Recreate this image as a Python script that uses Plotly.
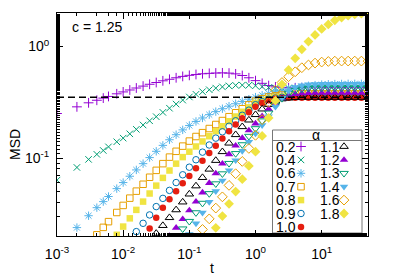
import plotly.graph_objects as go

# ---------------- data ----------------
t = [0.001, 0.002, 0.003, 0.004, 0.005, 0.006, 0.008,
     0.01, 0.0126, 0.0158, 0.02, 0.0251, 0.0316, 0.0398, 0.0501, 0.0631, 0.0794,
     0.1, 0.126, 0.158, 0.2, 0.251, 0.316, 0.398, 0.501, 0.631, 0.794,
     1.0, 1.26, 1.58, 2.0, 2.51, 3.16, 3.98, 5.01, 6.31, 7.94,
     10.0, 12.6, 15.8, 20.0, 25.1, 31.6, 39.8, 50.1]

N = None
msd_a02 = [0.251, 0.288, 0.313, 0.330, 0.345, 0.357, 0.377, 0.392, 0.408, 0.425,
           0.442, 0.459, 0.476, 0.493, 0.509, 0.525, 0.540, 0.552, 0.562, 0.570,
           0.575, 0.579, 0.581, 0.578, 0.569, 0.550, 0.525, 0.495, 0.468, 0.447,
           0.435, 0.429, 0.427, 0.427, 0.427, 0.427, 0.427, 0.427, 0.427, 0.427,
           0.427, 0.427, 0.427, 0.427, 0.427]
msd_a04 = [0.0634, 0.0824, 0.0973, 0.108, 0.117, 0.126, 0.140, 0.151, 0.165, 0.181,
           0.198, 0.216, 0.235, 0.257, 0.280, 0.305, 0.331, 0.353, 0.373, 0.394,
           0.410, 0.424, 0.435, 0.444, 0.449, 0.451, 0.450, 0.445, 0.437, 0.429,
           0.425, 0.424, 0.424, 0.424, 0.424, 0.424, 0.424, 0.424, 0.424, 0.424,
           0.424, 0.424, 0.424, 0.424, 0.424]
msd_a06 = [N, 0.0238, 0.0304, 0.0359, 0.0407, 0.0452, 0.0532, 0.0603, 0.0687, 0.0783,
           0.0891, 0.101, 0.115, 0.130, 0.146, 0.162, 0.179, 0.196, 0.213, 0.229,
           0.245, 0.261, 0.277, 0.292, 0.307, 0.322, 0.337, 0.352, 0.366, 0.380,
           0.394, 0.406, 0.417, 0.427, 0.437, 0.445, 0.451, 0.456, 0.459, 0.461,
           0.462, 0.463, 0.463, 0.463, 0.463]
msd_a07 = [N, N, N, 0.0205, 0.0239, 0.0269, 0.0325, 0.0376, 0.0437, 0.0505,
           0.0582, 0.0673, 0.0776, 0.0891, 0.102, 0.115, 0.128, 0.142, 0.156, 0.169,
           0.184, 0.200, 0.217, 0.235, 0.255, 0.277, 0.300, 0.324, 0.340, 0.353,
           0.361, 0.367, 0.372, 0.374, 0.376, 0.376, 0.376, 0.376, 0.376, 0.376,
           0.376, 0.376, 0.376, 0.376, 0.376]
msd_a08 = [N, N, N, N, N, N, 0.0205, 0.0243, 0.0288, 0.0343,
           0.0407, 0.0481, 0.0566, 0.0664, 0.0773, 0.0891, 0.102, 0.114, 0.127, 0.141,
           0.157, 0.174, 0.193, 0.214, 0.236, 0.260, 0.285, 0.313, 0.331, 0.345,
           0.354, 0.358, 0.361, 0.361, 0.361, 0.361, 0.361, 0.361, 0.361, 0.361,
           0.361, 0.361, 0.361, 0.361, 0.361]
msd_a09 = [N, N, N, N, N, N, N, N, 0.0186, 0.0219,
           0.0260, 0.0309, 0.0367, 0.0435, 0.0513, 0.0603, 0.0708, 0.0828, 0.0966, 0.113,
           0.131, 0.151, 0.172, 0.193, 0.216, 0.242, 0.269, 0.301, 0.321, 0.337,
           0.346, 0.351, 0.353, 0.355, 0.355, 0.355, 0.355, 0.355, 0.355, 0.355,
           0.355, 0.355, 0.355, 0.355, 0.355]
msd_a10 = [N, N, N, N, N, N, N, N, N, N,
           0.0188, 0.0233, 0.0292, 0.0359, 0.0427, 0.0505, 0.0593, 0.0692, 0.0809, 0.0946,
           0.111, 0.129, 0.150, 0.174, 0.200, 0.228, 0.258, 0.288, 0.312, 0.330,
           0.340, 0.345, 0.348, 0.348, 0.348, 0.348, 0.348, 0.348, 0.348, 0.348,
           0.348, 0.348, 0.348, 0.348, 0.348]
msd_a11 = [N, N, N, N, N, N, N, N, N, N,
           N, 0.0180, 0.0211, 0.0248, 0.0292, 0.0343, 0.0403, 0.0475, 0.0562, 0.0668,
           0.0794, 0.0951, 0.114, 0.136, 0.162, 0.191, 0.219, 0.245, 0.275, 0.302,
           0.324, 0.339, 0.345, 0.348, 0.350, 0.350, 0.350, 0.350, 0.350, 0.350,
           0.350, 0.350, 0.350, 0.350, 0.350]
msd_a12 = [N, N, N, N, N, N, N, N, N, N,
           N, N, N, N, 0.0200, 0.0237, 0.0283, 0.0339, 0.0406, 0.0490,
           0.0596, 0.0728, 0.0891, 0.108, 0.129, 0.151, 0.177, 0.204, 0.237, 0.275,
           0.313, 0.343, 0.363, 0.374, 0.380, 0.383, 0.385, 0.385, 0.385, 0.385,
           0.385, 0.385, 0.385, 0.385, 0.385]
msd_a13 = [N, N, N, N, N, N, N, N, N, N,
           N, N, N, N, N, 0.0200, 0.0232, 0.0271, 0.0324, 0.0394,
           0.0481, 0.0589, 0.0724, 0.0897, 0.110, 0.132, 0.157, 0.184, 0.216, 0.254,
           0.299, 0.343, 0.380, 0.404, 0.417, 0.423, 0.425, 0.425, 0.425, 0.425,
           0.425, 0.425, 0.425, 0.425, 0.425]
msd_a14 = [N, N, N, N, N, N, N, N, N, N,
           N, N, N, N, N, N, N, 0.0208, 0.0259, 0.0324,
           0.0404, 0.0504, 0.0628, 0.0776, 0.0955, 0.116, 0.140, 0.166, 0.197, 0.237,
           0.288, 0.347, 0.398, 0.432, 0.449, 0.457, 0.460, 0.462, 0.462, 0.462,
           0.462, 0.462, 0.462, 0.462, 0.462]
msd_a16 = [N, N, N, N, N, N, N, N, N, N,
           N, N, N, N, N, N, N, N, 0.0182, 0.0229,
           0.0285, 0.0356, 0.0449, 0.0569, 0.0724, 0.0933, 0.122, 0.160, 0.221, 0.316,
           0.407, 0.476, 0.537, 0.594, 0.646, 0.684, 0.711, 0.726, 0.735, 0.740,
           0.741, 0.741, 0.741, 0.741, 0.741]
msd_a18 = [N, N, N, N, N, N, N, N, N, N,
           N, N, N, N, N, N, N, N, N, N,
           0.0186, 0.0237, 0.0302, 0.0389, 0.0501, 0.0646, 0.0851, 0.114, 0.158, 0.229,
           0.327, 0.457, 0.617, 0.785, 0.944, 1.11, 1.27, 1.44, 1.58, 1.72,
           1.82, 1.89, 1.94, 1.97, 1.99]

alpha_labels = ["0.2", "0.4", "0.6", "0.7", "0.8", "0.9", "1.0",
                "1.1", "1.2", "1.3", "1.4", "1.6", "1.8"]
msd_series = [msd_a02, msd_a04, msd_a06, msd_a07, msd_a08, msd_a09, msd_a10,
              msd_a11, msd_a12, msd_a13, msd_a14, msd_a16, msd_a18]
plateau = 0.352
param_text = "c = 1.25"
x_tickvals = [0.001, 0.01, 0.1, 1, 10]
x_ticktext = ["10<sup>-3</sup>", "10<sup>-2</sup>", "10<sup>-1</sup>",
              "10<sup>0</sup>", "10<sup>1</sup>"]
y_tickvals = [0.1, 1]
y_ticktext = ["10<sup>-1</sup>", "10<sup>0</sup>"]

# ---------------- styles ----------------
VIOLET, GREEN, SKY, ORANGE, YELLOW, BLUE, RED, BLACK = (
    "#9400d3", "#009e73", "#56b4e9", "#e69f00", "#f0e442", "#0072b2", "#e51e10", "#000000")
styles = [
    ("cross-thin-open", VIOLET, 7, True),
    ("x-thin-open", GREEN, 6.5, True),
    ("asterisk-open", SKY, 7, True),
    ("square-open", ORANGE, 6.5, True),
    ("square", YELLOW, 6.5, False),
    ("circle-open", BLUE, 6.5, True),
    ("circle", RED, 6.5, False),
    ("triangle-up-open", BLACK, 7.5, True),
    ("triangle-up", VIOLET, 7.5, False),
    ("triangle-down-open", GREEN, 7.5, True),
    ("triangle-down", SKY, 7.5, False),
    ("diamond-open", ORANGE, 7.5, True),
    ("diamond", YELLOW, 7.5, False),
]

def marker_of(style):
    sym, col, size, is_open = style
    if is_open:
        return dict(symbol=sym, size=size, color=col, line=dict(color=col, width=1))
    return dict(symbol=sym, size=size, color=col, line=dict(width=0))

FONT = "Liberation Sans, Arial, sans-serif"
OFF = 8                                   # browser page margin around the figure
W, H = 399 - OFF, 279 - OFF
PX0, PX1, PY0, PY1 = 57, 368, 13, 236     # plot frame in window pixels
L, T = PX0 - OFF, PY0 - OFF
R, B = W - (PX1 - OFF), H - (PY1 - OFF)

fig = go.Figure()
for lab, vals, st in zip(alpha_labels, msd_series, styles):
    fig.add_trace(go.Scatter(x=t, y=vals, mode="markers", name=lab,
                             marker=marker_of(st), showlegend=False, hoverinfo="skip"))

fig.add_trace(go.Scatter(x=[t[0], t[-1]], y=[plateau, plateau], mode="lines",
                         line=dict(color="black", width=1.5, dash="7px,4px"),
                         showlegend=False, hoverinfo="skip"))

# ---------------- hand-made two-column legend (window-pixel frame via overlay axes) ----------------
box_x0, box_x1, box_y0, box_y1 = 272.5, 362, 130, 233
head_y = 140.5
row0, row_dy = 146.5, 13.4
col_label_x = [273.5, 317.5]
col_marker_x = [301, 344]
n_rows = 7
for i, (lab, st) in enumerate(zip(alpha_labels, styles)):
    col, row = divmod(i, n_rows)
    yy = row0 + row * row_dy
    fig.add_trace(go.Scatter(x=[col_marker_x[col]], y=[yy], xaxis="x2", yaxis="y2",
                             mode="markers", marker=marker_of(st), showlegend=False,
                             hoverinfo="skip", cliponaxis=False))
    fig.add_annotation(x=col_label_x[col], y=yy, xref="x2", yref="y2", text=lab,
                       showarrow=False, xanchor="left", yanchor="middle",
                       font=dict(family=FONT, size=14, color="black"))

fig.add_shape(type="rect", x0=box_x0, x1=box_x1, y0=box_y0, y1=box_y1,
              xref="x2", yref="y2", line=dict(color="#777777", width=1),
              fillcolor="white", layer="below")
fig.add_shape(type="line", x0=box_x0, x1=box_x1, y0=head_y, y1=head_y,
              xref="x2", yref="y2", line=dict(color="#777777", width=1), layer="below")
fig.add_annotation(x=(box_x0 + box_x1) / 2 - 1, y=134.5, xref="x2", yref="y2", text="α",
                   showarrow=False, xanchor="center", yanchor="middle",
                   font=dict(family=FONT, size=14, color="black"))

def paper(px, py):
    return (px - PX0) / (PX1 - PX0), 1 - (py - PY0) / (PY1 - PY0)

px_, py_ = paper(70, 27)
fig.add_annotation(x=px_, y=py_, xref="paper", yref="paper", text=param_text,
                   showarrow=False, xanchor="left", yanchor="middle",
                   font=dict(family=FONT, size=14, color="black"))
px_, py_ = paper(212, 268)
fig.add_annotation(x=px_, y=py_, xref="paper", yref="paper", text="t",
                   showarrow=False, xanchor="center", yanchor="middle",
                   font=dict(family=FONT, size=14, color="black"))
px_, py_ = paper(15, 145)
fig.add_annotation(x=px_, y=py_, xref="paper", yref="paper", text="MSD", textangle=-90,
                   showarrow=False, xanchor="center", yanchor="middle",
                   font=dict(family=FONT, size=14, color="black"))

axis_common = dict(type="log",
                   showline=True, linecolor="black", linewidth=1, mirror="ticks",
                   ticks="inside", ticklen=6, tickwidth=1, tickcolor="black",
                   minor=dict(ticks="inside", ticklen=3, tickwidth=1, tickcolor="black",
                              showgrid=False),
                   showgrid=False, zeroline=False,
                   tickfont=dict(family=FONT, size=14, color="black"))

fig.update_layout(
    width=W, height=H, margin=dict(l=L, r=R, t=T, b=B),
    paper_bgcolor="white", plot_bgcolor="white", showlegend=False,
    xaxis=dict(range=[-3, 1.7], tickvals=x_tickvals, ticktext=x_ticktext,
               ticklabelstandoff=5, **axis_common),
    yaxis=dict(range=[-1.69897, 0.30103], tickvals=y_tickvals, ticktext=y_ticktext,
               ticklabelstandoff=4, **axis_common),
    xaxis2=dict(overlaying="x", range=[PX0, PX1], visible=False, fixedrange=True),
    yaxis2=dict(overlaying="y", range=[PY1, PY0], visible=False, fixedrange=True),
)

fig.write_html("out.html")
